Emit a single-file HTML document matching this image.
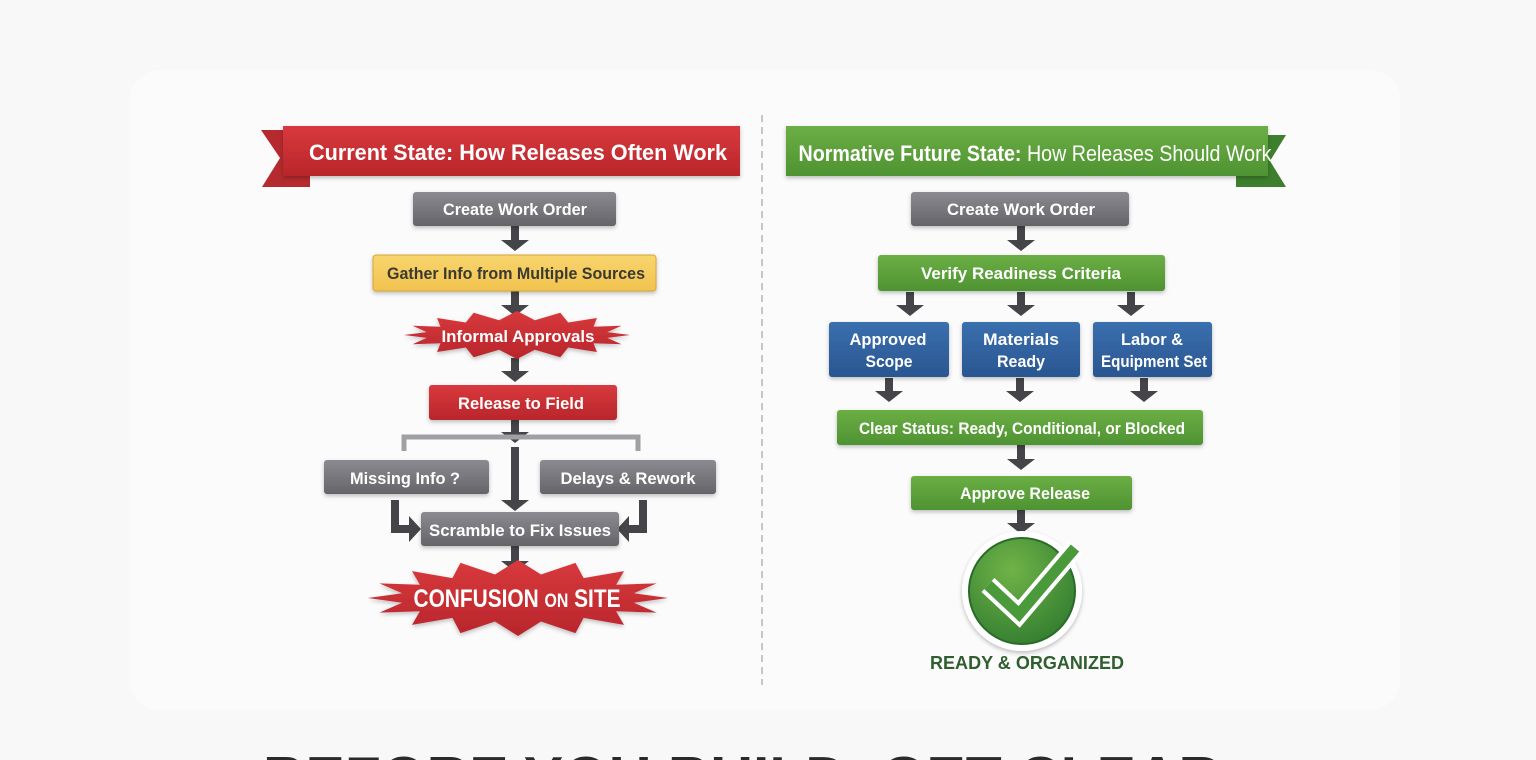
<!DOCTYPE html>
<html><head><meta charset="utf-8"><style>
html,body{margin:0;padding:0;width:1536px;height:760px;overflow:hidden;background:#f9f8f9}
svg{display:block}
text{font-family:"Liberation Sans",sans-serif;font-weight:bold}
</style></head><body>
<svg width="1536" height="760" viewBox="0 0 1536 760" xmlns="http://www.w3.org/2000/svg">
<defs>
<linearGradient id="gy" x1="0" y1="0" x2="0" y2="1"><stop offset="0" stop-color="#8a8a90"/><stop offset="1" stop-color="#646469"/></linearGradient>
<linearGradient id="rd" x1="0" y1="0" x2="0" y2="1"><stop offset="0" stop-color="#d8393d"/><stop offset="1" stop-color="#b8262b"/></linearGradient>
<linearGradient id="gr" x1="0" y1="0" x2="0" y2="1"><stop offset="0" stop-color="#6cae45"/><stop offset="1" stop-color="#4e9332"/></linearGradient>
<linearGradient id="bl" x1="0" y1="0" x2="0" y2="1"><stop offset="0" stop-color="#3a6fae"/><stop offset="1" stop-color="#2a5690"/></linearGradient>
<linearGradient id="yl" x1="0" y1="0" x2="0" y2="1"><stop offset="0" stop-color="#f8d56e"/><stop offset="1" stop-color="#f1c24e"/></linearGradient>
<radialGradient id="cg" cx="0.4" cy="0.3" r="0.8"><stop offset="0" stop-color="#6fb347"/><stop offset="1" stop-color="#2f7a2f"/></radialGradient>
<filter id="sh" x="-10%" y="-20%" width="120%" height="150%"><feDropShadow dx="0" dy="2" stdDeviation="2" flood-color="#000" flood-opacity="0.25"/></filter>
<clipPath id="cp"><rect x="0" y="0" width="1536" height="760"/></clipPath>
</defs>
<rect x="130" y="70" width="1270" height="640" rx="30" fill="#fcfbfc"/>

<line x1="762" y1="115" x2="762" y2="685" stroke="#aaa" stroke-width="1.3" stroke-dasharray="7,5"/>

<polygon points="261,130 310,130 310,187 262,187 280,158" fill="#b52a2e"/>
<rect x="283" y="126" width="457" height="50" fill="url(#rd)" filter="url(#sh)"/>
<text x="518" y="160" font-size="22" fill="#fff" text-anchor="middle" textLength="418" lengthAdjust="spacingAndGlyphs">Current State: How Releases Often Work</text>

<g fill="#454549">
<path d="M511,226h8v14h10l-14,11l-14,-11h10z"/>
<path d="M511,291h8v14h10l-14,11l-14,-11h10z"/>
<path d="M511,358h8v13h10l-14,11l-14,-11h10z"/>
<path d="M511,420h8v12h10l-14,11l-14,-11h10z"/>
<path d="M511,447h8v53h10l-14,11l-14,-11h10z"/>
<path d="M511,546h8v15h10l-14,11l-14,-11h10z"/>
<path d="M391,500h8v25h10v-9l12,13l-12,13v-9h-18z"/>
<path d="M639,500h8v33h-18v9l-12,-13l12,-13v9h10z"/>
<path d="M1017,226h8v14h10l-14,11l-14,-11h10z"/>
<path d="M906,292h8v13h10l-14,11l-14,-11h10z"/>
<path d="M1017,292h8v13h10l-14,11l-14,-11h10z"/>
<path d="M1127,292h8v13h10l-14,11l-14,-11h10z"/>
<path d="M885,378h8v13h10l-14,11l-14,-11h10z"/>
<path d="M1016,378h8v13h10l-14,11l-14,-11h10z"/>
<path d="M1140,378h8v13h10l-14,11l-14,-11h10z"/>
<path d="M1017,445h8v14h10l-14,11l-14,-11h10z"/>
<path d="M1017,510h8v13h10l-14,11l-14,-11h10z"/>
</g>
<path d="M404,451V437H638V451" fill="none" stroke="#a0a0a4" stroke-width="5"/>

<rect x="413" y="192" width="203" height="34" rx="3" fill="url(#gy)" filter="url(#sh)"/>
<text x="515" y="215" font-size="17" fill="#fff" text-anchor="middle" textLength="144" lengthAdjust="spacingAndGlyphs">Create Work Order</text>
<rect x="373" y="255" width="283" height="36" rx="3" fill="url(#yl)" stroke="#d9a83a" filter="url(#sh)"/>
<text x="516" y="279" font-size="17" fill="#3a3a30" text-anchor="middle" textLength="258" lengthAdjust="spacingAndGlyphs">Gather Info from Multiple Sources</text>
<polygon filter="url(#sh)" fill="url(#rd)" points="630,335 607.3,337.9 621.4,344.2 593.5,343.3 596.9,352 568.2,347.5 560.3,357.2 534.9,349.7 517,359 499.1,349.7 473.7,357.2 465.8,347.5 437.1,352 440.5,343.3 412.6,344.2 426.7,337.9 404,335 426.7,332.1 412.6,325.8 440.5,326.7 437.1,318 465.8,322.5 473.7,312.8 499.1,320.3 517,311 534.9,320.3 560.3,312.8 568.2,322.5 596.9,318 593.5,326.7 621.4,325.8 607.3,332.1"/>
<text x="518" y="342" font-size="17" fill="#fff" text-anchor="middle" textLength="153" lengthAdjust="spacingAndGlyphs">Informal Approvals</text>
<rect x="429" y="385" width="188" height="35" rx="3" fill="url(#rd)" filter="url(#sh)"/>
<text x="521" y="409" font-size="17" fill="#fff" text-anchor="middle" textLength="126" lengthAdjust="spacingAndGlyphs">Release to Field</text>
<rect x="324" y="460" width="165" height="34" rx="3" fill="url(#gy)" filter="url(#sh)"/>
<text x="405" y="484" font-size="17" fill="#fff" text-anchor="middle" textLength="110" lengthAdjust="spacingAndGlyphs">Missing Info ?</text>
<rect x="540" y="460" width="176" height="34" rx="3" fill="url(#gy)" filter="url(#sh)"/>
<text x="628" y="484" font-size="17" fill="#fff" text-anchor="middle" textLength="135" lengthAdjust="spacingAndGlyphs">Delays &amp; Rework</text>
<rect x="421" y="512" width="198" height="34" rx="3" fill="url(#gy)" filter="url(#sh)"/>
<text x="520" y="536" font-size="17" fill="#fff" text-anchor="middle" textLength="182" lengthAdjust="spacingAndGlyphs">Scramble to Fix Issues</text>
<polygon filter="url(#sh)" fill="url(#rd)" points="668,598 633.8,602.7 656.6,612.6 616.1,611.3 624,624.9 583.6,617.9 575.5,633.1 541,621.5 518,636 495,621.5 460.5,633.1 452.4,617.9 412,624.9 419.9,611.3 379.4,612.6 402.2,602.7 368,598 402.2,593.3 379.4,583.4 419.9,584.7 412,571.1 452.4,578.1 460.5,562.9 495,574.5 518,560 541,574.5 575.5,562.9 583.6,578.1 624,571.1 616.1,584.7 656.6,583.4 633.8,593.3"/>
<text x="517" y="607" font-size="25" fill="#fff" text-anchor="middle" textLength="207" lengthAdjust="spacingAndGlyphs">CONFUSION <tspan font-size="19">ON</tspan> SITE</text>

<polygon points="1236,135 1286,135 1270,161 1286,187 1236,187" fill="#3d7f2c"/>
<rect x="786" y="126" width="482" height="50" fill="url(#gr)" filter="url(#sh)"/>
<text x="1035" y="161" font-size="22" fill="#fff" text-anchor="middle" textLength="473" lengthAdjust="spacingAndGlyphs">Normative Future State: <tspan font-weight="normal">How Releases Should Work</tspan></text>

<rect x="911" y="192" width="218" height="34" rx="3" fill="url(#gy)" filter="url(#sh)"/>
<text x="1021" y="215" font-size="17" fill="#fff" text-anchor="middle" textLength="148" lengthAdjust="spacingAndGlyphs">Create Work Order</text>
<rect x="878" y="255" width="287" height="36" rx="3" fill="url(#gr)" filter="url(#sh)"/>
<text x="1021" y="279" font-size="17" fill="#fff" text-anchor="middle" textLength="200" lengthAdjust="spacingAndGlyphs">Verify Readiness Criteria</text>
<rect x="829" y="322" width="120" height="55" rx="3" fill="url(#bl)" filter="url(#sh)"/>
<text x="888" y="345" font-size="17" fill="#fff" text-anchor="middle" textLength="77" lengthAdjust="spacingAndGlyphs">Approved</text>
<text x="889" y="367" font-size="17" fill="#fff" text-anchor="middle" textLength="47" lengthAdjust="spacingAndGlyphs">Scope</text>
<rect x="962" y="322" width="118" height="55" rx="3" fill="url(#bl)" filter="url(#sh)"/>
<text x="1021" y="345" font-size="17" fill="#fff" text-anchor="middle" textLength="76" lengthAdjust="spacingAndGlyphs">Materials</text>
<text x="1021" y="367" font-size="17" fill="#fff" text-anchor="middle" textLength="48" lengthAdjust="spacingAndGlyphs">Ready</text>
<rect x="1093" y="322" width="119" height="55" rx="3" fill="url(#bl)" filter="url(#sh)"/>
<text x="1152" y="345" font-size="17" fill="#fff" text-anchor="middle" textLength="62" lengthAdjust="spacingAndGlyphs">Labor &amp;</text>
<text x="1154" y="367" font-size="17" fill="#fff" text-anchor="middle" textLength="106" lengthAdjust="spacingAndGlyphs">Equipment Set</text>
<rect x="837" y="410" width="366" height="35" rx="3" fill="url(#gr)" filter="url(#sh)"/>
<text x="1022" y="434" font-size="17" fill="#fff" text-anchor="middle" textLength="326" lengthAdjust="spacingAndGlyphs">Clear Status: Ready, Conditional, or Blocked</text>
<rect x="911" y="476" width="221" height="34" rx="3" fill="url(#gr)" filter="url(#sh)"/>
<text x="1025" y="499" font-size="17" fill="#fff" text-anchor="middle" textLength="130" lengthAdjust="spacingAndGlyphs">Approve Release</text>

<circle cx="1022" cy="591" r="60" fill="#fff" filter="url(#sh)"/>
<circle cx="1022" cy="591" r="53" fill="url(#cg)" stroke="#2a6a2a" stroke-width="2"/>
<path d="M988,585 L1019,614 L1075,548" fill="none" stroke="#fff" stroke-width="19" stroke-linejoin="miter"/>
<path d="M988,585 L1019,614 L1075,548" fill="none" stroke="#4a9a3c" stroke-width="11" stroke-linejoin="miter"/>
<text x="1027" y="669" font-size="18" fill="#2f5e2f" text-anchor="middle" textLength="194" lengthAdjust="spacingAndGlyphs">READY &amp; ORGANIZED</text>

<g clip-path="url(#cp)">
<text x="742" y="800" font-size="62" fill="#2a2a2a" text-anchor="middle" textLength="958" lengthAdjust="spacingAndGlyphs">BEFORE YOU BUILD, GET CLEAR</text>
</g>
</svg>
</body></html>
